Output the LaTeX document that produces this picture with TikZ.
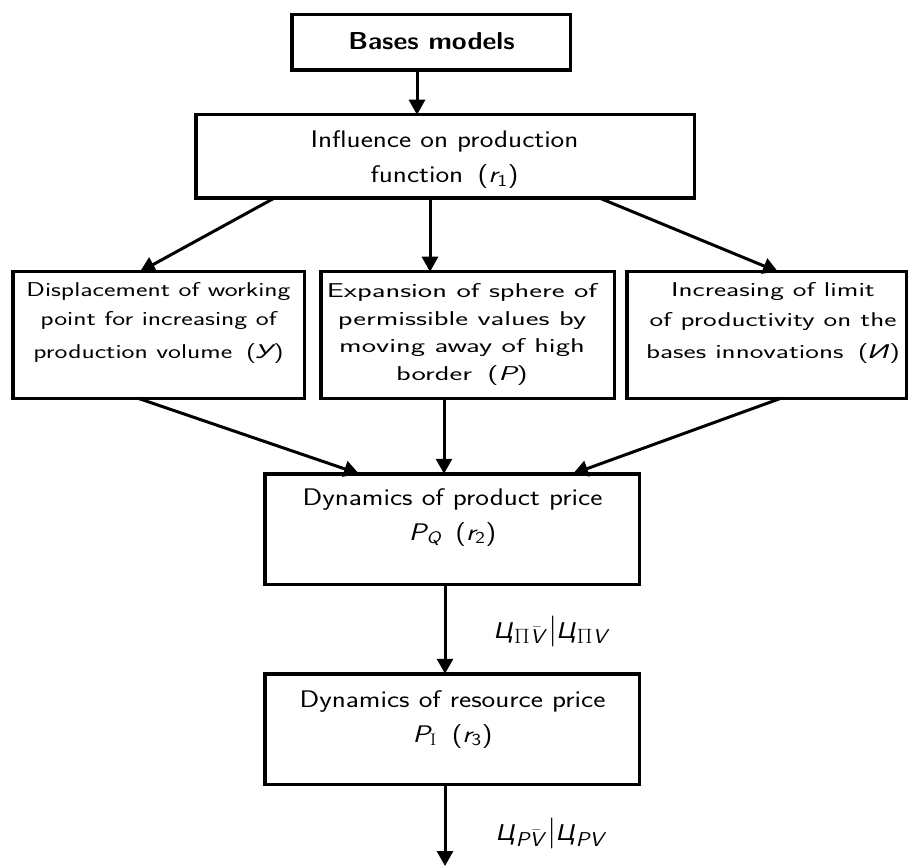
\documentclass[tikz,border=0pt]{standalone}
\usepackage{amsmath}
\usepackage{fontspec}
\usepackage{graphicx}
\newfontfamily\cyrf{Liberation Sans}
\usetikzlibrary{arrows.meta}
\newcommand{\cy}[1]{\text{\cyrf\itshape #1}}
\newcommand{\sv}[1]{\text{\sffamily\itshape #1}}
\newcommand{\lines}[2][1]{\scalebox{#1}[1]{\begin{tabular}[t]{@{}c@{}}#2\end{tabular}}}
\newcommand{\Ts}[2][5pt]{\raisebox{-#1}{\fontsize{20}{20}\selectfont #2}}
\newcommand{\sepbar}{{\fontsize{24}{24}\selectfont\,$\big|$}}
\tikzset{
  box/.style={draw, line width=3.5pt, inner sep=0pt, outer sep=0pt},
  arr/.style={line width=3pt, -{Triangle[length=15pt,width=16pt]}},
  bigtxt/.style={anchor=base, inner sep=0pt, font=\sffamily\fontsize{24}{35}\selectfont},
  midtxt/.style={anchor=base, inner sep=0pt, font=\sffamily\fontsize{20}{29}\selectfont},
  labtxt/.style={anchor=base west, inner sep=0pt, font=\cyrf\itshape\fontsize{23}{24}\selectfont},
}
\begin{document}
\begin{tikzpicture}[x=1pt,y=-1pt]
\useasboundingbox (0,0) rectangle (909,866);
% boxes
\node[box, minimum width=278.5pt, minimum height=55.5pt] (base) at (431,42.5) {};
\node[box, minimum width=498.5pt, minimum height=83.5pt] (inf) at (445,156.5) {};
\node[box, minimum width=291.5pt, minimum height=126.5pt] (m1) at (158.5,335) {};
\node[box, minimum width=293.5pt, minimum height=126.5pt] (m2) at (467.5,335) {};
\node[box, minimum width=279.5pt, minimum height=126.5pt] (m3) at (766.5,335) {};
\node[box, minimum width=374.5pt, minimum height=110.5pt] (dyn) at (452,529) {};
\node[box, minimum width=374.5pt, minimum height=110.5pt] (res) at (452,729) {};
% texts
\node[bigtxt, font=\sffamily\bfseries\fontsize{24.5}{35}\selectfont] (tbase) at (431.5,50) {\scalebox{1.1}[1]{Bases models}};
\node[bigtxt] (tinf) at (444.5,148) {\lines[1.21]{Influence on production\\ function\enspace(\sv{r}$_{\text{1}}$)}};
\node[midtxt] (tm1) at (158.5,296) {\lines[1.37]{Displacement of working\\ point for increasing of\\[4pt] production volume\enspace(\cy{У})}};
\node[midtxt, font=\sffamily\fontsize{20}{27.5}\selectfont] (tm2) at (462,298) {\lines[1.52]{Expansion of sphere of\\ permissible values by\\ moving away of high\\ border\enspace(\sv{P})}};
\node[midtxt] (tm3) at (773,297) {\lines[1.45]{Increasing of limit\\ of productivity on the\\[3pt] bases innovations\enspace(\cy{И})}};
\node[bigtxt] (tdyn) at (452.5,505) {\lines[1.21]{Dynamics of product price\\ $\sv{P}_{\sv{Q}}$\enspace(\sv{r}$_{\text{2}}$)}};
\node[bigtxt] (tres) at (452.5,707) {\lines[1.21]{Dynamics of resource price\\ $\sv{P}_{\mathrm{I}}$\enspace(\sv{r}$_{\text{3}}$)}};
\node[labtxt] (lab1) at (495,638) {\scalebox{1.12}[1]{Ц\Ts{$\Pi\bar{\sv{V}}$}\sepbar Ц\Ts{$\Pi\sv{V}$}}};
\node[labtxt] (lab2) at (497,840) {\scalebox{1.12}[1]{Ц\Ts[6pt]{$\sv{P}\bar{\sv{V}}$}\sepbar Ц\Ts[6pt]{$\sv{P}\sv{V}$}}};
\coordinate (end) at (445,866);
% arrows
\draw[arr] ([xshift=-14pt]base.south) -- ([xshift=-14pt]base.south |- inf.north);
\draw[arr] ([xshift=-171pt]inf.south) -- ([xshift=-18.5pt]m1.north);
\draw[arr] ([xshift=-15pt]inf.south) -- ([xshift=-15pt]inf.south |- m2.north);
\draw[arr] ([xshift=155pt]inf.south) -- ([xshift=11.5pt]m3.north);
\draw[arr] ([xshift=-20.5pt]m1.south) -- ([xshift=-93pt]dyn.north);
\draw[arr] ([xshift=-23.5pt]m2.south) -- ([xshift=-23.5pt]m2.south |- dyn.north);
\draw[arr] ([xshift=14.5pt]m3.south) -- ([xshift=121pt]dyn.north);
\draw[arr] ([xshift=-7pt]dyn.south) -- ([xshift=-7pt]dyn.south |- res.north);
\draw[arr] ([xshift=-7pt]res.south) -- (end);
\end{tikzpicture}
\end{document}
